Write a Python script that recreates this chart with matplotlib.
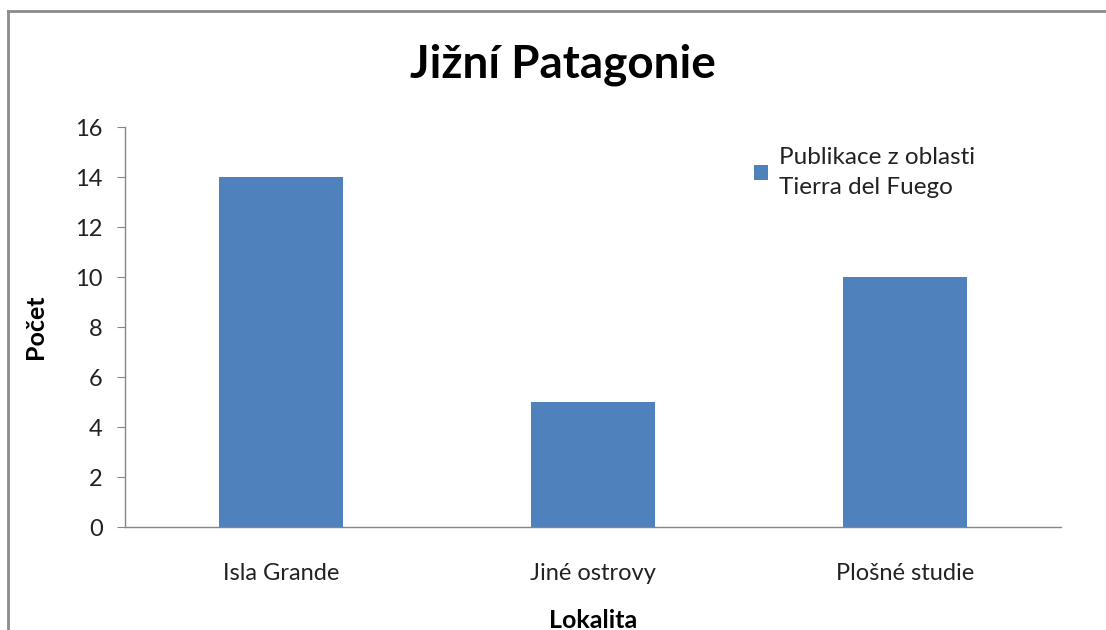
import matplotlib
matplotlib.use("Agg")
import matplotlib.pyplot as plt
from matplotlib.lines import Line2D

categories = ["Isla Grande", "Jiné ostrovy", "Plošné studie"]
counts = [14, 5, 10]
series_name = "Publikace z oblasti\nTierra del Fuego"
yticks = [0, 2, 4, 6, 8, 10, 12, 14, 16]

plt.rcParams['font.family'] = ['Lato', 'DejaVu Sans']

fig = plt.figure(figsize=(11.06, 6.30), dpi=100)
ax = fig.add_axes([125 / 1106, 1 - 527 / 630, 936 / 1106, 400 / 630])

# sloupce
ax.bar(range(len(categories)), counts, width=0.4, color='#4F81BD',
       label=series_name)

ax.set_xlim(-0.5, len(categories) - 0.5)
ax.set_ylim(0, 16)
ax.set_yticks(yticks)
ax.set_xticks(range(len(categories)))
ax.set_xticklabels(categories)

gray = '#868686'
for side in ['top', 'right']:
    ax.spines[side].set_visible(False)
for side in ['left', 'bottom']:
    ax.spines[side].set_color(gray)
    ax.spines[side].set_linewidth(1.0)
ax.tick_params(axis='y', direction='out', length=6, color=gray,
               labelsize=17, pad=10, labelcolor='#222222')
ax.tick_params(axis='x', length=0, labelsize=17, pad=26, labelcolor='#222222')

# nadpis je v Excelu vystredeny na cely graf, ne na osy
fig.text(563 / 1106, 1 - 65 / 630, 'Jižní Patagonie', fontsize=33,
         fontweight='bold', ha='center', va='center')
ax.set_ylabel('Počet', fontsize=18, fontweight='bold', labelpad=20)
ax.set_xlabel('Lokalita', fontsize=18, fontweight='bold', labelpad=18)

leg = ax.legend(loc='upper left', bbox_to_anchor=(0.662, 0.975), frameon=False,
                fontsize=17.5, handlelength=0.55, handleheight=0.55,
                handletextpad=0.45, borderaxespad=0, labelspacing=0)
for t in leg.get_texts():
    t.set_linespacing(1.55)
    t.set_color('#222222')

# ramecek grafu (jen horni a leva hrana je videt)
x0 = 8 / 1106
y0 = 1 - 11 / 630
fig.add_artist(Line2D([x0, x0], [0, y0], color='#8c8c8c', lw=2))
fig.add_artist(Line2D([x0, 1], [y0, y0], color='#8c8c8c', lw=2))

fig.savefig('out.png', dpi=100)
